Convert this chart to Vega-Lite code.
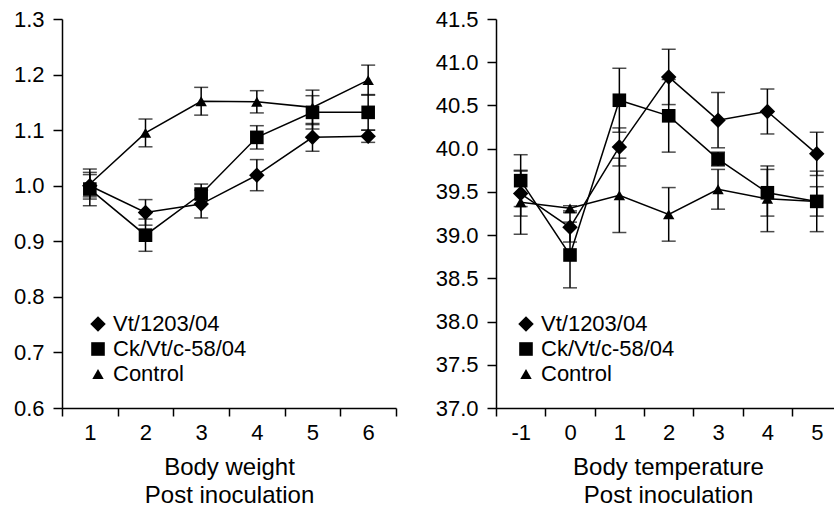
{
  "$schema": "https://vega.github.io/schema/vega-lite/v6.json",
  "background": "white",
  "padding": {"left": 13, "top": 8, "right": 0, "bottom": 0},
  "datasets": {
    "weight": [
      {"day": 1, "series": "Vt/1203/04", "mean": 1.0, "err": 0.02},
      {"day": 2, "series": "Vt/1203/04", "mean": 0.952, "err": 0.023},
      {"day": 3, "series": "Vt/1203/04", "mean": 0.967, "err": 0.025},
      {"day": 4, "series": "Vt/1203/04", "mean": 1.019, "err": 0.028},
      {"day": 5, "series": "Vt/1203/04", "mean": 1.087, "err": 0.025},
      {"day": 6, "series": "Vt/1203/04", "mean": 1.089, "err": 0.011},
      {"day": 1, "series": "Ck/Vt/c-58/04", "mean": 0.994, "err": 0.03},
      {"day": 2, "series": "Ck/Vt/c-58/04", "mean": 0.911, "err": 0.029},
      {"day": 3, "series": "Ck/Vt/c-58/04", "mean": 0.985, "err": 0.018},
      {"day": 4, "series": "Ck/Vt/c-58/04", "mean": 1.087, "err": 0.021},
      {"day": 5, "series": "Ck/Vt/c-58/04", "mean": 1.132, "err": 0.03},
      {"day": 6, "series": "Ck/Vt/c-58/04", "mean": 1.132, "err": 0.032},
      {"day": 1, "series": "Control", "mean": 1.003, "err": 0.027},
      {"day": 2, "series": "Control", "mean": 1.095, "err": 0.025},
      {"day": 3, "series": "Control", "mean": 1.152, "err": 0.025},
      {"day": 4, "series": "Control", "mean": 1.151, "err": 0.02},
      {"day": 5, "series": "Control", "mean": 1.141, "err": 0.031},
      {"day": 6, "series": "Control", "mean": 1.19, "err": 0.027}
    ],
    "temp": [
      {"day": -1, "series": "Vt/1203/04", "mean": 39.48, "err": 0.26},
      {"day": 0, "series": "Vt/1203/04", "mean": 39.09, "err": 0.17},
      {"day": 1, "series": "Vt/1203/04", "mean": 40.02, "err": 0.22},
      {"day": 2, "series": "Vt/1203/04", "mean": 40.83, "err": 0.32},
      {"day": 3, "series": "Vt/1203/04", "mean": 40.33, "err": 0.32},
      {"day": 4, "series": "Vt/1203/04", "mean": 40.43, "err": 0.26},
      {"day": 5, "series": "Vt/1203/04", "mean": 39.94, "err": 0.25},
      {"day": -1, "series": "Ck/Vt/c-58/04", "mean": 39.63, "err": 0.3},
      {"day": 0, "series": "Ck/Vt/c-58/04", "mean": 38.77, "err": 0.38},
      {"day": 1, "series": "Ck/Vt/c-58/04", "mean": 40.56, "err": 0.37},
      {"day": 2, "series": "Ck/Vt/c-58/04", "mean": 40.38, "err": 0.42},
      {"day": 3, "series": "Ck/Vt/c-58/04", "mean": 39.88, "err": 0.08},
      {"day": 4, "series": "Ck/Vt/c-58/04", "mean": 39.49, "err": 0.27},
      {"day": 5, "series": "Ck/Vt/c-58/04", "mean": 39.39, "err": 0.17},
      {"day": -1, "series": "Control", "mean": 39.38, "err": 0.37},
      {"day": 0, "series": "Control", "mean": 39.31, "err": 0.03},
      {"day": 1, "series": "Control", "mean": 39.46, "err": 0.43},
      {"day": 2, "series": "Control", "mean": 39.24, "err": 0.31},
      {"day": 3, "series": "Control", "mean": 39.53, "err": 0.23},
      {"day": 4, "series": "Control", "mean": 39.42, "err": 0.38},
      {"day": 5, "series": "Control", "mean": 39.39, "err": 0.35}
    ]
  },
  "hconcat": [
    {
      "width": 334,
      "height": 389,
      "data": {"name": "weight"},
      "encoding": {
        "x": {
          "field": "day", "type": "quantitative",
          "scale": {"domain": [0.5, 6.5], "nice": false, "zero": false},
          "axis": {
            "values": [0.5, 1.5, 2.5, 3.5, 4.5, 5.5, 6.5],
            "labelExpr": "datum.value < 6 ? toString(datum.value + 0.5) : ''",
            "labelOffset": 27.8,
            "title": ["Body weight", "Post inoculation"]
          }
        },
        "y": {
          "field": "mean", "type": "quantitative",
          "scale": {"domain": [0.6, 1.3], "nice": false, "zero": false},
          "axis": {"values": [0.6, 0.7, 0.8, 0.9, 1.0, 1.1, 1.2, 1.3], "format": ".1f", "title": null}
        }
      },
      "layer": [
        {"mark": {"type": "line", "color": "black", "strokeWidth": 1.5}, "encoding": {"detail": {"field": "series"}}},
        {"mark": {"type": "errorbar", "ticks": {"size": 14}, "color": "black", "thickness": 1.5}, "encoding": {"yError": {"field": "err"}}},
        {
          "mark": {"type": "point", "filled": true, "color": "black", "opacity": 1},
          "encoding": {
            "shape": {"field": "series", "type": "nominal",
              "scale": {"domain": ["Vt/1203/04", "Ck/Vt/c-58/04", "Control"], "range": ["diamond", "square", "triangle-up"]},
              "legend": {"orient": "none", "legendX": 25, "legendY": 294, "title": null}},
            "size": {"field": "series", "type": "nominal",
              "scale": {"domain": ["Vt/1203/04", "Ck/Vt/c-58/04", "Control"], "range": [240, 130, 165]},
              "legend": {"orient": "none", "legendX": 25, "legendY": 294, "title": null}}
          }
        }
      ]
    },
    {
      "width": 338,
      "height": 389,
      "data": {"name": "temp"},
      "encoding": {
        "x": {
          "field": "day", "type": "quantitative",
          "scale": {"domain": [-1.5, 5.35], "nice": false, "zero": false},
          "axis": {
            "values": [-1.5, -0.5, 0.5, 1.5, 2.5, 3.5, 4.5],
            "labelExpr": "toString(datum.value + 0.5)",
            "labelOffset": 24.7,
            "titleX": 172,
            "title": ["Body temperature", "Post inoculation"]
          }
        },
        "y": {
          "field": "mean", "type": "quantitative",
          "scale": {"domain": [37, 41.5], "nice": false, "zero": false},
          "axis": {"values": [37, 37.5, 38, 38.5, 39, 39.5, 40, 40.5, 41, 41.5], "format": ".1f", "title": null}
        }
      },
      "layer": [
        {"mark": {"type": "line", "color": "black", "strokeWidth": 1.5}, "encoding": {"detail": {"field": "series"}}},
        {"mark": {"type": "errorbar", "ticks": {"size": 14}, "color": "black", "thickness": 1.5}, "encoding": {"yError": {"field": "err"}}},
        {
          "mark": {"type": "point", "filled": true, "color": "black", "opacity": 1},
          "encoding": {
            "shape": {"field": "series", "type": "nominal",
              "scale": {"domain": ["Vt/1203/04", "Ck/Vt/c-58/04", "Control"], "range": ["diamond", "square", "triangle-up"]},
              "legend": {"orient": "none", "legendX": 19, "legendY": 294, "title": null}},
            "size": {"field": "series", "type": "nominal",
              "scale": {"domain": ["Vt/1203/04", "Ck/Vt/c-58/04", "Control"], "range": [240, 130, 165]},
              "legend": {"orient": "none", "legendX": 19, "legendY": 294, "title": null}}
          }
        }
      ]
    }
  ],
  "spacing": 11,
  "resolve": {
    "scale": {"shape": "independent", "size": "independent"},
    "legend": {"shape": "independent", "size": "independent"}
  },
  "config": {
    "font": "Liberation Sans",
    "view": {"stroke": null},
    "axis": {
      "grid": false,
      "domainColor": "black",
      "domainWidth": 1.5,
      "tickColor": "black",
      "tickWidth": 1.5,
      "labelColor": "black",
      "labelFont": "Liberation Sans",
      "labelFontSize": 22,
      "labelFlush": false,
      "labelOverlap": false,
      "titleColor": "black",
      "titleFont": "Liberation Sans",
      "titleFontSize": 24,
      "titleFontWeight": "normal",
      "titleLineHeight": 28
    },
    "axisX": {"tickSize": 8, "labelPadding": 6, "titlePadding": 12},
    "axisY": {"tickSize": 9, "labelPadding": 9},
    "legend": {
      "labelFont": "Liberation Sans",
      "labelFontSize": 22,
      "labelColor": "black",
      "rowPadding": 3,
      "labelOffset": 4,
      "symbolFillColor": "black",
      "symbolStrokeColor": "black"
    }
  }
}
